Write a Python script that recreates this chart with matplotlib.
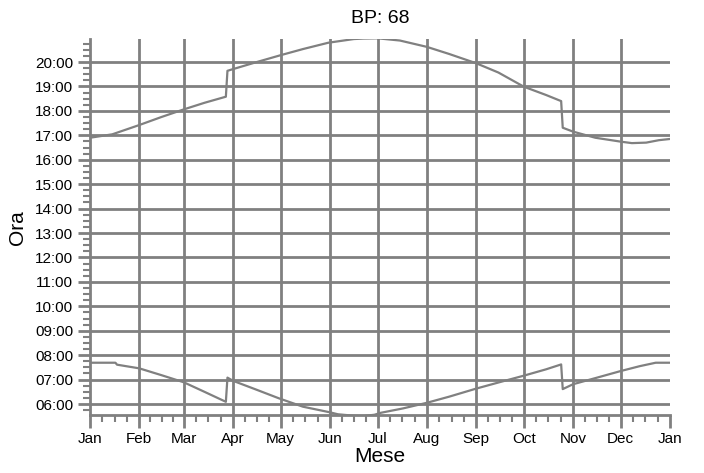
import matplotlib
matplotlib.use("Agg")
import matplotlib.pyplot as plt
import numpy as np

plt.rcParams['font.family'] = ['Liberation Sans', 'DejaVu Sans']

# ---- data (day of year, hours) ----
sunset_days = [0, 14, 31, 45, 59, 72, 85.5, 86.5, 90, 105, 120, 134, 150, 166, 172, 181,
               195, 212, 226, 243, 257, 273, 287, 296.5, 297.5, 304, 318, 334, 341, 350, 358, 365]
sunset_hours = [16.90, 17.04, 17.42, 17.75, 18.06, 18.33, 18.58, 19.64, 19.71, 20.00, 20.28,
                20.53, 20.79, 20.94, 20.96, 20.97, 20.88, 20.62, 20.33, 19.95, 19.57, 18.99,
                18.65, 18.40, 17.31, 17.15, 16.90, 16.74, 16.68, 16.70, 16.80, 16.85]

sunrise_days = [0, 16, 17, 31, 45, 59, 72, 85.5, 86.5, 90, 105, 119, 134, 151, 156, 166, 172,
                179, 183, 197, 212, 226, 243, 257, 273, 287, 296.5, 297.5, 304, 318, 334, 346,
                356, 365]
sunrise_hours = [7.69, 7.69, 7.61, 7.46, 7.18, 6.89, 6.50, 6.09, 7.08, 6.95, 6.58, 6.23, 5.89,
                 5.66, 5.58, 5.52, 5.51, 5.56, 5.64, 5.82, 6.05, 6.30, 6.63, 6.88, 7.16, 7.42,
                 7.62, 6.61, 6.81, 7.06, 7.35, 7.55, 7.69, 7.69]

month_starts = [0, 31, 59, 90, 120, 151, 181, 212, 243, 273, 304, 334, 365]
month_labels = ['Jan', 'Feb', 'Mar', 'Apr', 'May', 'Jun', 'Jul', 'Aug', 'Sep', 'Oct', 'Nov', 'Dec', 'Jan']
hour_ticks = list(range(6, 21))
hour_labels = ['%02d:00' % h for h in hour_ticks]

title = 'BP: 68'
xlabel = 'Mese'
ylabel = 'Ora'

GRAY = '#808080'

fig = plt.figure(figsize=(7.04, 4.73), dpi=100)
ax = fig.add_axes([90 / 704, 1 - 415 / 473, 580 / 704, (415 - 39.3) / 473])

ax.set_xlim(0, 365)
ax.set_ylim(5.55, 20.93)

# grid lines
for m in month_starts[1:-1]:
    ax.axvline(m, color=GRAY, lw=2, zorder=1)
for h in hour_ticks:
    ax.axhline(h, color=GRAY, lw=2, zorder=1)

ax.plot(sunset_days, sunset_hours, color=GRAY, lw=1.6, zorder=2)
ax.plot(sunrise_days, sunrise_hours, color=GRAY, lw=1.6, zorder=2)

# spines
for s in ['top', 'right']:
    ax.spines[s].set_visible(False)
for s in ['left', 'bottom']:
    ax.spines[s].set_color(GRAY)
    ax.spines[s].set_linewidth(2)
    ax.spines[s].set_zorder(3)

# ticks
ax.set_xticks(month_starts)
ax.set_xticklabels(month_labels, fontsize=11)
minor_x = []
for a, b in zip(month_starts[:-1], month_starts[1:]):
    for k in (1, 2, 3):
        minor_x.append(a + (b - a) * k / 4)
ax.set_xticks(minor_x, minor=True)

ax.set_yticks(hour_ticks)
ax.set_yticklabels(hour_labels, fontsize=11)
minor_y = [h + q / 4 for h in range(5, 21) for q in (1, 2, 3)]
minor_y = [v for v in minor_y if 5.55 <= v <= 20.93]
ax.set_yticks(minor_y, minor=True)

ax.tick_params(axis='both', which='major', length=9, width=2, color=GRAY, pad=3)
ax.tick_params(axis='both', which='minor', length=5, width=1.5, color=GRAY)

ax.set_xlabel(xlabel, fontsize=15, labelpad=1)
ax.set_ylabel(ylabel, fontsize=15, labelpad=6)
ax.set_title(title, fontsize=14, pad=12)

fig.savefig('out.png', dpi=100)
